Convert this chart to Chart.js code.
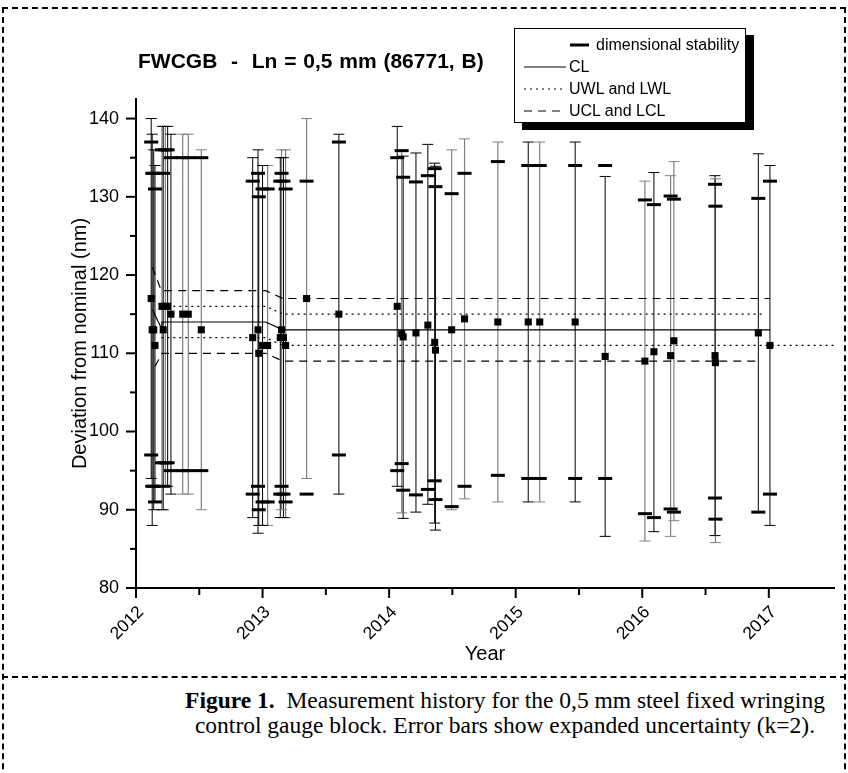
<!DOCTYPE html>
<html>
<head>
<meta charset="utf-8">
<script src="https://cdn.jsdelivr.net/npm/chart.js@4/dist/chart.umd.min.js"></script>
<style>
  body { margin: 0; background: #fff; }
  #page { position: relative; width: 848px; height: 773px; overflow: hidden; font-family: "Liberation Sans", Arial, sans-serif; }
  #frame { position: absolute; left: 2px; top: 7px; width: 840px; height: 820px; border: 2px dashed #000; border-bottom: none; }
  #sep { position: absolute; left: 2px; top: 676px; width: 844px; border-top: 2px dashed #000; }
  canvas { position: absolute; left: 0; top: 0; }
  #title { position: absolute; left: 138px; top: 49px; font-weight: bold; font-size: 21px; word-spacing: 1px; white-space: pre; }
  #legend { position: absolute; left: 514px; top: 28px; width: 230px; height: 93px; border: 1px solid #000; background: #fff; box-shadow: 8px 7px 0 #000; font-size: 16px; }
  .row { position: absolute; left: 0; height: 22px; line-height: 22px; white-space: nowrap; }
  .row svg { position: absolute; top: 0; }
  #caption { position: absolute; left: 150px; width: 710px; top: 688px; text-align: center; font-family: "Liberation Serif", "Times New Roman", serif; font-size: 23.5px; line-height: 25px; }
</style>
</head>
<body>
<div id="page">
  <div id="frame"></div>
  <canvas id="chart" width="848" height="680"></canvas>
  <div id="title">FWCGB  -  Ln = 0,5 mm (86771, B)</div>
  <div id="legend">
    <div class="row" style="top:5px"><svg width="80" height="22"><line x1="55" y1="11" x2="74" y2="11" stroke="#000" stroke-width="3"/></svg><span style="position:absolute;left:81px">dimensional stability</span></div>
    <div class="row" style="top:27px"><svg width="60" height="22"><line x1="9" y1="11" x2="51" y2="11" stroke="#000" stroke-width="1"/></svg><span style="position:absolute;left:54px">CL</span></div>
    <div class="row" style="top:49px"><svg width="60" height="22"><line x1="9" y1="11" x2="51" y2="11" stroke="#000" stroke-width="1" stroke-dasharray="2 4"/></svg><span style="position:absolute;left:54px">UWL and LWL</span></div>
    <div class="row" style="top:71px"><svg width="60" height="22"><line x1="9" y1="11" x2="51" y2="11" stroke="#000" stroke-width="1" stroke-dasharray="8 6"/></svg><span style="position:absolute;left:54px">UCL and LCL</span></div>
  </div>
  <div id="sep"></div>
  <div id="caption"><b>Figure 1.</b>&nbsp; Measurement history for the 0,5 mm steel fixed wringing<br>control gauge block. Error bars show expanded uncertainty (k=2).</div>
</div>
<script>
// measurement history (year, deviation in nm)
const years = [2012.120, 2012.128, 2012.140, 2012.150, 2012.205, 2012.215, 2012.232, 2012.250, 2012.276, 2012.369, 2012.413, 2012.516,
  2012.922, 2012.964, 2012.970, 2013.000, 2013.040, 2013.140, 2013.150, 2013.165, 2013.182, 2013.348, 2013.603,
  2014.064, 2014.099, 2014.111, 2014.212, 2014.306, 2014.360, 2014.366, 2014.494, 2014.596, 2014.859, 2015.099, 2015.190, 2015.470,
  2015.707, 2016.021, 2016.092, 2016.224, 2016.250, 2016.575, 2016.578, 2016.917, 2017.009];
const values = [117, 113, 113, 111, 116, 113, 116, 116, 115, 115, 115, 113,
  112, 113, 110, 111, 111, 112, 113, 112, 111, 117, 115,
  116.0, 112.5, 112.1, 112.6, 113.6, 111.4, 110.4, 113.0, 114.4, 114.0, 114.0, 114.0, 114.0,
  109.6, 109.0, 110.2, 109.7, 111.6, 109.7, 108.8, 112.6, 111.0];
// expanded uncertainty limits (error bars)
const errLow = [94, 88, 90, 91, 90, 90, 93, 93, 92, 92, 92, 90,
  89, 87, 88, 88, 88, 89, 90, 89, 89, 94, 92,
  93.0, 89.6, 88.9, 89.7, 90.7, 88.3, 87.4, 90.0, 91.4, 91.0, 91.0, 91.0, 91.0,
  86.6, 86.0, 87.2, 86.6, 88.6, 86.7, 85.8, 89.7, 88.0];
const errHigh = [140, 138, 136, 134, 139, 139, 139, 139, 138, 138, 138, 136,
  135, 136, 133, 134, 134, 135, 136, 135, 136, 140, 138,
  139.0, 135.9, 135.2, 135.6, 136.7, 134.3, 133.9, 136.0, 137.4, 137.0, 137.0, 137.0, 137.0,
  132.6, 132.0, 133.1, 132.7, 134.5, 132.7, 132.3, 135.5, 134.0];
// dimensional stability marks
const stabLow = [97, 93, 93, 91, 96, 93, 96, 96, 95, 95, 95, 95,
  92, 93, 90, 91, 91, 92, 93, 92, 91, 92, 97,
  95.0, 95.9, 92.5, 91.9, 92.6, 93.7, 91.3, 90.4, 93.0, 94.4, 94.0, 94.0, 94.0,
  94.0, 89.5, 89.0, 90.1, 89.7, 91.5, 88.8, 89.7, 92.0];
const stabHigh = [137, 133, 133, 131, 136, 133, 136, 136, 135, 135, 135, 135,
  132, 133, 130, 131, 131, 132, 133, 132, 131, 132, 137,
  135.0, 135.9, 132.5, 131.9, 132.7, 133.6, 131.3, 130.4, 133.0, 134.5, 134.0, 134.0, 134.0,
  134.0, 129.6, 129.0, 130.1, 129.7, 131.6, 128.8, 129.8, 132.0];
// k = black error bar, g = grey error bar
const barShade = ['k', 'k', 'k', 'k', 'g', 'k', 'g', 'k', 'k', 'g', 'g', 'g',
  'k', 'k', 'k', 'k', 'g', 'k', 'g', 'k', 'g', 'g', 'k',
  'k', 'g', 'k', 'k', 'k', 'k', 'k', 'g', 'g', 'g', 'k', 'g', 'k',
  'k', 'g', 'k', 'g', 'g', 'k', 'g', 'k', 'k'];

// control chart limits
const clYears = [2012.13, 2012.20, 2012.205, 2013.025, 2013.16, 2017.01];
const clValues = [115.6, 113.2, 114, 114, 113, 113];
const uwlYears = [2012.20, 2013.025, 2013.16, 2016.97];
const uwlValues = [116, 116, 115, 115];
const lwlYears = [2012.20, 2013.025, 2013.16, 2017.515];
const lwlValues = [112, 112, 111, 111];
const uclYears = [2012.13, 2012.20, 2013.025, 2013.16, 2017.01];
const uclValues = [121, 118, 118, 117, 117];
const lclYears = [2012.15, 2012.205, 2013.025, 2013.16, 2016.94];
const lclValues = [108.3, 110, 110, 109, 109];

const yearLabels = [2012, 2013, 2014, 2015, 2016, 2017];
const yTickLabels = [80, 90, 100, 110, 120, 130, 140];

const idx = years.map((_, i) => i);
function barSegments(shade) {
  const pts = [];
  idx.filter(i => barShade[i] === shade).forEach(i => {
    pts.push({x: years[i], y: errLow[i]}, {x: years[i], y: errHigh[i]}, {x: years[i], y: null});
  });
  return pts;
}
function capPoints(shade) {
  return idx.filter(i => barShade[i] === shade)
    .flatMap(i => [{x: years[i], y: errLow[i]}, {x: years[i], y: errHigh[i]}]);
}
const linePts = (xs, ys) => xs.map((x, i) => ({x: x, y: ys[i]}));

const grey = '#808080';
const font = "'Liberation Sans', Arial, sans-serif";

// tick marks: long at labelled values, short in between
const tickMarks = {
  id: 'tickMarks',
  afterDraw(chart) {
    const {ctx, scales: {x, y}} = chart;
    ctx.save();
    ctx.strokeStyle = '#000';
    ctx.lineWidth = 2;
    x.ticks.forEach(t => {
      if (t.value > 2017 || (t.value * 2) % 1 !== 0) return;
      const px = x.getPixelForValue(t.value);
      const len = yearLabels.includes(t.value) ? 10 : 7;
      ctx.beginPath(); ctx.moveTo(px, y.bottom); ctx.lineTo(px, y.bottom + len); ctx.stroke();
    });
    y.ticks.forEach(t => {
      if (t.value % 5 !== 0) return;
      const py = y.getPixelForValue(t.value);
      const len = yTickLabels.includes(t.value) ? 10 : 6;
      ctx.beginPath(); ctx.moveTo(x.left, py); ctx.lineTo(x.left - len, py); ctx.stroke();
    });
    ctx.restore();
  }
};

new Chart(document.getElementById('chart'), {
  type: 'scatter',
  data: {
    datasets: [
      { label: 'values', data: idx.map(i => ({x: years[i], y: values[i]})), pointStyle: 'rect', pointRadius: 5,
        pointBackgroundColor: '#000', pointBorderWidth: 0, order: 0 },
      { label: 'dimensional stability', data: idx.flatMap(i => [{x: years[i], y: stabHigh[i]}, {x: years[i], y: stabLow[i]}]),
        pointStyle: 'line', pointRadius: 7, pointBorderColor: '#000', pointBorderWidth: 3, order: 1 },
      { label: 'CL', data: linePts(clYears, clValues), showLine: true, pointRadius: 0, borderColor: '#000', borderWidth: 1.2, order: 2 },
      { label: 'UWL', data: linePts(uwlYears, uwlValues), showLine: true, pointRadius: 0, borderColor: '#000', borderWidth: 1.2, borderDash: [2, 4], order: 2 },
      { label: 'LWL', data: linePts(lwlYears, lwlValues), showLine: true, pointRadius: 0, borderColor: '#000', borderWidth: 1.2, borderDash: [2, 4], order: 2 },
      { label: 'UCL', data: linePts(uclYears, uclValues), showLine: true, pointRadius: 0, borderColor: '#000', borderWidth: 1.2, borderDash: [8, 6], order: 2 },
      { label: 'LCL', data: linePts(lclYears, lclValues), showLine: true, pointRadius: 0, borderColor: '#000', borderWidth: 1.2, borderDash: [8, 6], order: 2 },
      { label: 'caps black', data: capPoints('k'), pointStyle: 'line', pointRadius: 5.5, pointBorderColor: '#000', pointBorderWidth: 1, order: 3 },
      { label: 'caps grey', data: capPoints('g'), pointStyle: 'line', pointRadius: 5.5, pointBorderColor: grey, pointBorderWidth: 1, order: 4 },
      { label: 'bars black', data: barSegments('k'), showLine: true, spanGaps: false, pointRadius: 0, borderColor: '#000', borderWidth: 1, order: 5 },
      { label: 'bars grey', data: barSegments('g'), showLine: true, spanGaps: false, pointRadius: 0, borderColor: grey, borderWidth: 1.2, order: 6 }
    ]
  },
  options: {
    responsive: false,
    animation: false,
    devicePixelRatio: 1,
    events: [],
    layout: { padding: { left: 60, right: 14, top: 99, bottom: 0 } },
    plugins: { legend: { display: false }, tooltip: { enabled: false } },
    scales: {
      x: {
        type: 'linear', min: 2012, max: 2017.515,
        afterFit: s => { s.height = 92; s.paddingLeft = 0; s.paddingRight = 0; },
        grid: { display: false, drawTicks: false },
        border: { display: true, color: '#000', width: 2 },
        ticks: {
          stepSize: 0.5, autoSkip: false, includeBounds: false, minRotation: 45, maxRotation: 45, labelOffset: 5, padding: 14,
          color: '#000', font: { family: font, size: 17.5 },
          callback: v => yearLabels.includes(v) ? String(v) : ''
        },
        title: { display: true, text: 'Year', color: '#000', font: { family: font, size: 20 }, padding: { bottom: 14 } }
      },
      y: {
        min: 80, max: 142.5,
        afterFit: s => { s.width = 76; s.paddingTop = 0; s.paddingBottom = 0; },
        grid: { display: false, drawTicks: false },
        border: { display: true, color: '#000', width: 2 },
        ticks: {
          stepSize: 5, includeBounds: false, padding: 17, color: '#000', font: { family: font, size: 18 },
          callback: v => yTickLabels.includes(v) ? String(v) : ''
        },
        title: { display: true, text: 'Deviation from nominal (nm)', color: '#000', font: { family: font, size: 20 }, padding: { top: 8 } }
      }
    }
  },
  plugins: [tickMarks]
});
</script>
</body>
</html>
